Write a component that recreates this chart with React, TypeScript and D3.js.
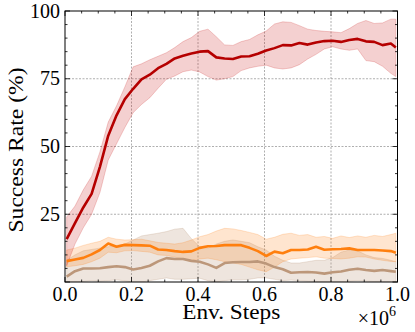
import * as d3 from "d3";
import React, { useEffect, useRef } from "react";

const steps = [
  0.005, 0.03, 0.055, 0.08, 0.105, 0.13, 0.155, 0.18, 0.205, 0.23, 0.255, 0.28,
  0.305, 0.33, 0.355, 0.38, 0.405, 0.43, 0.455, 0.48, 0.505, 0.53, 0.555, 0.58,
  0.605, 0.63, 0.655, 0.68, 0.705, 0.73, 0.755, 0.78, 0.805, 0.83, 0.855, 0.88,
  0.905, 0.93, 0.955, 0.98, 0.995,
];

// red run
const redMean = [
  15.8, 21.7, 27.5, 32.5, 42.5, 54, 61.5, 67.5, 71.3, 74.8, 76.5, 78.9, 80.5,
  82.5, 83.5, 84.3, 85, 85.2, 82.9, 82.5, 82.3, 83.2, 83.3, 84.2, 85.4, 86.3,
  87.4, 87.3, 88.2, 87.6, 88.4, 88.9, 89.0, 88.6, 89.3, 89.7, 88.8, 88.6, 87.4,
  88.0, 86.5,
];
const redUpper = [
  24, 28, 34, 39, 48, 59, 65, 72, 79.4, 80.5, 82, 83.3, 84.6, 86.5, 88.7, 90.2,
  92.5, 93.3, 90.5, 87.5, 87.3, 88.7, 89.5, 91.2, 92.6, 95.2, 96, 95.8, 94.6,
  93.3, 92.8, 92.5, 92.3, 92, 93.5, 95.4, 96.5, 95.4, 95.6, 97, 97,
];
const redLower = [
  6, 14, 20, 25, 33, 45, 51, 57, 62.5, 65.5, 68, 71.5, 74.8, 76, 77.6, 78.2,
  77.5, 75.8, 74.5, 75, 75.8, 78, 79, 79.6, 80, 79, 78.6, 79, 80.2, 82.3, 84,
  86, 86.8, 86, 85.5, 86, 81.7, 81.3, 79.6, 77, 75.8,
];

// orange run
const orangeMean = [
  7.7, 8.3, 8.9, 10.2, 11.8, 14.2, 13, 13.7, 13.6, 13.5, 13.4, 12, 11.8, 11.4,
  11.1, 11.3, 12.6, 13.2, 13.3, 13.6, 13.6, 13.6, 12.6, 11.4, 9.6, 11.2, 10.6,
  11.8, 11.8, 12, 13, 11.9, 12.1, 12.2, 12.4, 11.8, 11.8, 11.8, 11.6, 11.4,
  10.8,
];
const orangeUpper = [
  11.8, 12.5, 13.5, 14.3, 15, 16.5, 15.8, 15.5, 15.6, 15.8, 15.2, 14.6, 14.3,
  14, 14.5, 15.5, 16.7, 17.5, 18.8, 19.8, 19.6, 19, 18.3, 17.5, 15.8, 16.5,
  17.6, 18, 17.2, 17.5, 16.5, 16.8, 16.1, 17, 16.4, 17, 16.5, 17.2, 16.8, 17.5,
  18,
];
const orangeLower = [
  5.6, 6, 6.5, 7.5, 8.8, 11, 10.8, 11.5, 11.6, 11.3, 11, 10, 9.8, 9.2, 8.5, 8,
  8.5, 8.8, 8.2, 7.5, 7, 6.5, 5.5, 4.5, 3.8, 5.5, 7.5, 8.5, 8.8, 9, 9.3, 8.8,
  8.7, 8.5, 8.8, 9.3, 9.2, 8.5, 8, 7.6, 7.5,
];

// brown run
const brownMean = [
  2, 4, 5, 5, 5.1, 5.5, 5.8, 5.5, 4.6, 5.2, 6, 7.6, 8.8, 8.5, 8.5, 7.8, 7.5,
  6.5, 5.2, 7, 7.3, 7.4, 7.4, 7.6, 6.8, 5.5, 4.7, 3.4, 3.6, 3.7, 3.5, 3.1, 3.6,
  3.9, 4.5, 4.9, 4.4, 4.1, 4.4, 4, 3.8,
];
const brownUpper = [
  8, 10, 11.5, 12, 12.5, 13, 13.5, 14, 15.5, 17, 17.5, 18, 18.6, 19.5, 19.8, 16,
  13, 12.5, 14, 15, 15.5, 15, 14.5, 13, 11.8, 9.5, 8, 7, 7, 7.5, 8, 8, 9, 11,
  11.8, 11.5, 10, 9, 8.7, 8, 7.5,
];
const brownLower = [
  0, 0, 0.2, 0.5, 0.3, 0.5, 0.8, 0.4, 0, 0, 0.5, 1, 1.5, 1, 1, 1.2, 1.4, 0.5, 0,
  0.5, 0.8, 0.8, 1, 1.5, 1.5, 1, 0.5, 0.7, 0.5, 0.3, 0.2, 0, 0, 0, 0.3, 0.5,
  0.3, 0.2, 0.2, 0, 0,
];

const xTicks = [0, 0.2, 0.4, 0.6, 0.8, 1.0];
const yTicks = [25, 50, 75, 100];

const runs = [
  { name: "brown", mean: brownMean, upper: brownUpper, lower: brownLower, line: "#bc977a", fill: "rgba(188,151,122,0.25)" },
  { name: "orange", mean: orangeMean, upper: orangeUpper, lower: orangeLower, line: "#ff7f0e", fill: "rgba(255,127,14,0.2)" },
  { name: "red", mean: redMean, upper: redUpper, lower: redLower, line: "#b50000", fill: "rgba(200,20,20,0.2)" },
];

function Chart() {
  const ref = useRef<SVGSVGElement>(null);

  useEffect(() => {
    if (!ref.current) return;
    const width = 415;
    const height = 332;
    const marginTop = 11;
    const marginRight = 17.5;
    const marginBottom = 50;
    const marginLeft = 65;
    const font = "Liberation Serif";

    const x = d3.scaleLinear().domain([0, 1]).range([marginLeft, width - marginRight]);
    const y = d3.scaleLinear().domain([0, 100]).range([height - marginBottom, marginTop]);

    const svg = d3.select(ref.current);
    svg.selectChildren().remove();
    svg.attr("viewBox", [0, 0, width, height]).attr("width", width).attr("height", height);

    svg
      .append("defs")
      .append("clipPath")
      .attr("id", "plotclip")
      .append("rect")
      .attr("x", marginLeft)
      .attr("y", marginTop)
      .attr("width", width - marginLeft - marginRight)
      .attr("height", height - marginTop - marginBottom);

    // grid
    const grid = svg.append("g").attr("stroke", "#9a9a9a").attr("stroke-width", 0.8).attr("stroke-dasharray", "2,1.5");
    grid
      .selectAll("line.gx")
      .data(xTicks.slice(1, -1))
      .join("line")
      .attr("x1", (d) => x(d))
      .attr("x2", (d) => x(d))
      .attr("y1", y(0))
      .attr("y2", y(100));
    grid
      .selectAll("line.gy")
      .data(yTicks.slice(0, -1))
      .join("line")
      .attr("x1", x(0))
      .attr("x2", x(1))
      .attr("y1", (d) => y(d))
      .attr("y2", (d) => y(d));

    const plot = svg.append("g").attr("clip-path", "url(#plotclip)");

    const area = d3.area<number>().x((d, i) => x(steps[i]));
    const line = d3
      .line<number>()
      .x((d, i) => x(steps[i]))
      .y((d) => y(d));

    runs.forEach((r) => {
      plot
        .append("path")
        .datum(r.mean)
        .attr("fill", r.fill)
        .attr("stroke", r.fill)
        .attr("stroke-width", 1)
        .attr("d", area.y0((d, i) => y(r.lower[i])).y1((d, i) => y(r.upper[i])));
    });
    runs.forEach((r) => {
      plot
        .append("path")
        .datum(r.mean)
        .attr("fill", "none")
        .attr("stroke", r.line)
        .attr("stroke-width", 2.6)
        .attr("stroke-linejoin", "round")
        .attr("d", line);
    });

    // frame
    svg
      .append("rect")
      .attr("x", x(0))
      .attr("y", y(100))
      .attr("width", x(1) - x(0))
      .attr("height", y(0) - y(100))
      .attr("fill", "none")
      .attr("stroke", "#000")
      .attr("stroke-width", 1);

    // inward ticks on all sides
    const ticks = svg.append("g").attr("stroke", "#000").attr("stroke-width", 0.8);
    const xMinor = d3.range(0, 21).map((i) => i * 0.05);
    const yMinor = d3.range(0, 21).map((i) => i * 5);
    xMinor.forEach((v, i) => {
      const len = i % 4 === 0 ? 5 : 2.5;
      ticks.append("line").attr("x1", x(v)).attr("x2", x(v)).attr("y1", y(0)).attr("y2", y(0) - len);
      ticks.append("line").attr("x1", x(v)).attr("x2", x(v)).attr("y1", y(100)).attr("y2", y(100) + len);
    });
    yMinor.forEach((v, i) => {
      const len = i % 5 === 0 ? 5 : 2.5;
      ticks.append("line").attr("x1", x(0)).attr("x2", x(0) + len).attr("y1", y(v)).attr("y2", y(v));
      ticks.append("line").attr("x1", x(1)).attr("x2", x(1) - len).attr("y1", y(v)).attr("y2", y(v));
    });

    const txt = svg.append("g").style("font-family", font).attr("fill", "#000");

    // tick labels
    txt
      .append("g")
      .attr("font-size", 20)
      .attr("text-anchor", "middle")
      .selectAll("text")
      .data(xTicks)
      .join("text")
      .attr("x", (d) => x(d))
      .attr("y", y(0) + 18.5)
      .text((d) => d3.format(".1f")(d));

    txt
      .append("g")
      .attr("font-size", 20)
      .attr("text-anchor", "end")
      .selectAll("text")
      .data(yTicks)
      .join("text")
      .attr("x", x(0) - 5)
      .attr("y", (d) => y(d) + 6.5)
      .text((d) => String(d));

    // axis labels
    txt
      .append("text")
      .attr("font-size", 20)
      .attr("text-anchor", "middle")
      .attr("x", (x(0) + x(1)) / 2)
      .attr("y", 318.5)
      .attr("textLength", 98)
      .attr("lengthAdjust", "spacingAndGlyphs")
      .text("Env. Steps");

    txt
      .append("text")
      .attr("font-size", 20)
      .attr("text-anchor", "middle")
      .attr("transform", `translate(22.5,150) rotate(-90)`)
      .attr("textLength", 165)
      .attr("lengthAdjust", "spacingAndGlyphs")
      .text("Success Rate (%)");

    const mult = txt
      .append("text")
      .attr("font-size", 20)
      .attr("text-anchor", "end")
      .attr("x", 396)
      .attr("y", 325);
    mult.append("tspan").text("×10");
    mult.append("tspan").attr("font-size", 14).attr("dy", -9).text("6");
  }, []);

  return <svg ref={ref} style={{ position: "absolute", left: 0, top: 0, display: "block" }} />;
}

export default function App() {
  return <Chart />;
}
